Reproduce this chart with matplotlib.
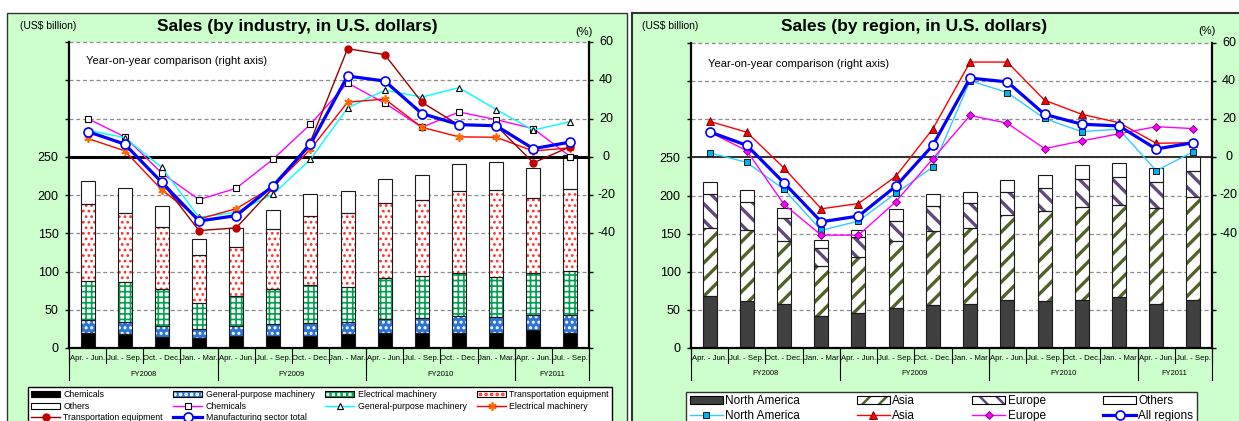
import matplotlib
matplotlib.use('Agg')
import matplotlib.pyplot as plt
import matplotlib.patches as mpatches
from matplotlib.legend_handler import HandlerTuple
from matplotlib import font_manager
import numpy as np

W, H = 1239, 421

plt.rcParams['font.family'] = ['Liberation Sans', 'DejaVu Sans']
plt.rcParams['hatch.linewidth'] = 1.8
_installed = {f.name for f in font_manager.fontManager.ttflist}
NARROW = 'Liberation Sans Narrow' in _installed

quarters = ['Apr. - Jun.', 'Jul. - Sep.', 'Oct. - Dec.', 'Jan. - Mar.'] * 3 + ['Apr. - Jun.', 'Jul. - Sep.']
quarters_r = ['Apr. - Jun.', 'Jul. - Sep.', 'Oct. - Dec.', 'Jan. - Mar'] * 3 + ['Apr. - Jun.', 'Jul. - Sep.']
fiscal_years = ['FY2008', 'FY2009', 'FY2010', 'FY2011']
fy_quarters = [4, 4, 4, 2]

# sales by industry, US$ billion
chemicals = [19.6, 18, 14, 13, 16, 16, 16, 18, 20, 20, 20, 20, 23, 20]
general_machinery = [17.4, 16, 15, 12, 13, 15, 16.6, 15.5, 18, 19.6, 22, 21, 20.5, 23.5]
electrical_machinery = [51, 52.5, 47.5, 34, 39, 46, 50, 46.5, 53, 54.4, 56, 51.6, 54.5, 57.5]
transport_equipment = [100, 90.5, 81.5, 62, 64, 79, 90, 97, 98.6, 100, 107, 114, 97.6, 107]
others_ind = [30, 32, 28, 22, 25, 25, 28.4, 28, 31.4, 32.5, 35, 36, 40, 44]

# year-on-year change by industry, %
chemicals_yoy = [20.0, 10.4, -8.6, -22.4, -16.5, -1.2, 17.0, 38.6, 28.0, 15.4, 23.4, 19.4, 14.7, 0.0]
general_yoy = [13.9, 10.0, -5.6, -31.7, -29.0, -19.5, -1.4, 25.5, 34.8, 31.2, 36.1, 24.7, 13.9, 18.4]
electrical_yoy = [9.6, 3.1, -17.3, -32.5, -27.2, -15.5, 3.9, 28.5, 30.2, 15.4, 10.4, 10.2, 3.0, 4.7]
transport_yoy = [13.0, 6.6, -13.4, -38.6, -37.2, -16.3, 7.9, 56.5, 53.4, 28.5, 16.5, 16.4, -3.2, 5.3]
manufacturing_yoy = [13.2, 6.6, -13.4, -33.6, -30.8, -15.1, 6.5, 42.2, 39.6, 22.6, 16.8, 16.2, 4.2, 7.7]

# sales by region, US$ billion
north_america = [68, 62, 58, 42, 45.5, 52, 56, 58, 63.5, 62, 63.5, 66.5, 58, 63.5]
asia = [90, 93.4, 82, 65, 74, 88, 98, 100, 110.5, 118, 122, 121.5, 125, 135]
europe = [44, 36.4, 31, 23.7, 25.5, 27, 31.6, 32.4, 30, 30, 36.4, 35.7, 34.6, 34.2]
others_reg = [16, 16, 13, 10.5, 10, 14.7, 16.4, 14.6, 16.6, 16.8, 17.5, 18.3, 18, 18.7]

# year-on-year change by region, %
north_america_yoy = [2.4, -2.6, -16.8, -38.3, -33.4, -18.9, -5.0, 40.2, 34.0, 20.4, 13.5, 14.8, -7.0, 3.0]
asia_yoy = [18.9, 13.2, -5.6, -27.0, -24.2, -10.0, 15.0, 50.0, 50.0, 30.0, 22.6, 18.2, 7.4, 7.7]
europe_yoy = [13.3, 3.5, -24.7, -40.8, -40.8, -23.3, -0.7, 22.0, 17.9, 4.6, 8.6, 12.4, 16.1, 15.1]
all_regions_yoy = [13.4, 6.3, -13.4, -33.8, -30.8, -15.2, 6.4, 41.6, 39.6, 22.6, 17.4, 16.5, 4.4, 7.7]

x = np.arange(len(quarters))
BAR_W = 0.375


def px(v):
    return v / W


def py(v):
    return 1 - v / H


def bar_style(face, ink='black', hatch=None, hlw=1.8):
    return dict(face=face, ink=ink, hatch=hatch, hlw=hlw)


def hatch_width(patch, lw):
    if hasattr(patch, 'set_hatch_linewidth'):
        patch.set_hatch_linewidth(lw)


def draw_panel(ax, layers, layer_styles, yoy, yoy_styles, labels, zero_color, zero_lw):
    ax.set_facecolor('white')
    ax.set_xlim(-0.5, len(x) - 0.5)
    ax.set_ylim(0, 400)
    for v in range(50, 401, 50):
        ax.axhline(v, color='#8c8c8c', lw=0.9, ls=(0, (3.2, 2.2)), zorder=1, clip_on=False)

    bottom = np.zeros(len(x))
    bar_handles = []
    for vals, st in zip(layers, layer_styles):
        vals = np.asarray(vals, dtype=float)
        bars = ax.bar(x, vals, BAR_W, bottom=bottom, color=st['face'], edgecolor=st['ink'],
                      hatch=st['hatch'], linewidth=0, zorder=2)
        for p in bars:
            hatch_width(p, st['hlw'])
        fill = mpatches.Patch(facecolor=st['face'], edgecolor=st['ink'], hatch=st['hatch'], lw=0)
        hatch_width(fill, st['hlw'])
        ax.bar(x, vals, BAR_W, bottom=bottom, fill=False, edgecolor='#1a1a1a', linewidth=0.8, zorder=2.1)
        bar_handles.append((fill, mpatches.Patch(fill=False, edgecolor='black', lw=0.8)))
        bottom += vals
    ax.axhline(250, color=zero_color, lw=zero_lw, zorder=3)

    ax.set_yticks(np.arange(0, 401, 50))
    ax.set_yticklabels([str(v) if v <= 250 else '' for v in range(0, 401, 50)])
    ax.tick_params(axis='y', direction='out', length=3, width=1, labelsize=9, pad=4.5)
    ax.set_xticks([])
    for side in ('top', 'right'):
        ax.spines[side].set_visible(False)
    for side in ('left', 'bottom'):
        ax.spines[side].set_linewidth(1.6)

    ax2 = ax.twinx()
    ax2.set_ylim(-100, 60)
    ax2.set_xlim(-0.5, len(x) - 0.5)
    ax2.set_yticks(np.arange(-100, 61, 20))
    ax2.set_yticklabels([])
    ax2.tick_params(axis='y', direction='out', length=3, width=1)
    for side in ('top', 'left', 'bottom'):
        ax2.spines[side].set_visible(False)
    ax2.spines['right'].set_linewidth(1.6)
    for v in range(-40, 61, 20):
        ax2.annotate(str(v), xy=(1, v), xycoords=('axes fraction', 'data'), xytext=(17, 0),
                     textcoords='offset pixels', ha='center', va='center', fontsize=9)

    line_handles = []
    for vals, st in zip(yoy, yoy_styles):
        ln, = ax2.plot(x, vals, **st)
        line_handles.append(ln)

    # quarter / fiscal-year labels under the bars
    tr = ax.get_xaxis_transform()
    q_font = dict(family='Liberation Sans Narrow', fontsize=7) if NARROW else dict(fontsize=5.6)
    fy_font = dict(family='Liberation Sans Narrow', fontsize=6.5) if NARROW else dict(fontsize=5.4)
    for i, lab in enumerate(labels):
        ax.text(i, -0.033, lab, transform=tr, ha='center', va='center', **q_font)
    for b in np.arange(-0.5, len(x), 1.0):
        ax.plot([b, b], [0, -0.049], transform=tr, color='black', lw=0.8, clip_on=False)
    start = -0.5
    for fy, n in zip(fiscal_years, fy_quarters):
        ax.plot([start, start], [0, -0.105], transform=tr, color='black', lw=0.8, clip_on=False)
        ax.text(start + n / 2, -0.085, fy, transform=tr, ha='center', va='center', **fy_font)
        start += n
    ax.plot([start, start], [0, -0.105], transform=tr, color='black', lw=0.8, clip_on=False)
    return bar_handles, line_handles


fig = plt.figure(figsize=(W / 100, H / 100), dpi=100)

fig.patches.append(mpatches.Rectangle((px(7), -0.2), px(627) - px(7), py(12.5) + 0.2,
                                      transform=fig.transFigure, facecolor='#ccffcc',
                                      edgecolor='#333333', lw=1, zorder=-1))
fig.patches.append(mpatches.Rectangle((px(631.5), -0.2), 0.5, py(12.5) + 0.2,
                                      transform=fig.transFigure, facecolor='#ccffcc',
                                      edgecolor='#333333', lw=1.5, zorder=-1))

ax_l = fig.add_axes([px(69), py(348), px(589) - px(69), py(42) - py(348)])
ax_r = fig.add_axes([px(691), py(348), px(1212) - px(691), py(43) - py(348)])

# left: by industry
ind_styles = [
    bar_style('black'),
    bar_style('#2e74d6', 'white', '...', 1.4),
    bar_style('white', '#00a050', '+++', 1.2),
    bar_style('white', '#ff3030', '...', 1.2),
    bar_style('white'),
]
ind_line_styles = [
    dict(color='#ff00ff', lw=1, marker='s', ms=5, mfc='white', mec='black', mew=0.8),
    dict(color='#00ffff', lw=1, marker='^', ms=5, mfc='white', mec='black', mew=0.8),
    dict(color='#ff0000', lw=1, marker=(6, 2, 0), ms=6, mec='#ff6600', mew=1.2),
    dict(color='#990000', lw=1, marker='o', ms=5, mfc='#c00000', mec='#c00000'),
    dict(color='#0000ff', lw=2.3, marker='o', ms=6.5, mfc='white', mec='#0000ff', mew=1.2),
]
bars_l, lines_l = draw_panel(
    ax_l,
    [chemicals, general_machinery, electrical_machinery, transport_equipment, others_ind],
    ind_styles,
    [chemicals_yoy, general_yoy, electrical_yoy, transport_yoy, manufacturing_yoy],
    ind_line_styles, quarters, 'black', 2.2)

# right: by region
reg_styles = [
    bar_style('#404040'),
    bar_style('white', '#4f6228', '//', 2.4),
    bar_style('white', '#5f497a', '\\\\', 2.4),
    bar_style('white'),
]
reg_line_styles = [
    dict(color='#33ccff', lw=1, marker='s', ms=5, mfc='#00b0f0', mec='black', mew=0.6),
    dict(color='#ff0000', lw=1, marker='^', ms=5.5, mfc='#ff0000', mec='#600000', mew=0.6),
    dict(color='#ff00ff', lw=1, marker='D', ms=4, mfc='#ff00ff', mec='#700070', mew=0.6),
    dict(color='#0000ff', lw=2.3, marker='o', ms=6.5, mfc='white', mec='#0000ff', mew=1.2),
]
bars_r, lines_r = draw_panel(
    ax_r,
    [north_america, asia, europe, others_reg],
    reg_styles,
    [north_america_yoy, asia_yoy, europe_yoy, all_regions_yoy],
    reg_line_styles, quarters_r, '#303030', 1.4)

# legends (column-major order fills the rows left to right)
leg_l_handles = [bars_l[0], bars_l[4], lines_l[3], bars_l[1], lines_l[0], lines_l[4],
                 bars_l[2], lines_l[1], bars_l[3], lines_l[2]]
leg_l_labels = ['Chemicals', 'Others', 'Transportation equipment',
                'General-purpose machinery', 'Chemicals', 'Manufacturing sector total',
                'Electrical machinery', 'General-purpose machinery',
                'Transportation equipment', 'Electrical machinery']
leg = fig.legend(leg_l_handles, leg_l_labels, loc='upper left',
                 bbox_to_anchor=(px(28), py(387), px(612) - px(28), 0.0001),
                 mode='expand', ncol=4, fontsize=6.3, numpoints=1, handlelength=3.3,
                 handleheight=0.7, handletextpad=0.4, labelspacing=0.3, borderpad=0.35,
                 borderaxespad=0, fancybox=False, framealpha=1, edgecolor='black',
                 handler_map={tuple: HandlerTuple(ndivide=1, pad=0)})
leg.get_frame().set_linewidth(1)

leg_r_handles = [bars_r[0], lines_r[0], bars_r[1], lines_r[1], bars_r[2], lines_r[2],
                 bars_r[3], lines_r[3]]
leg_r_labels = ['North America', 'North America', 'Asia', 'Asia', 'Europe', 'Europe',
                'Others', 'All regions']
leg = fig.legend(leg_r_handles, leg_r_labels, loc='upper left',
                 bbox_to_anchor=(px(686), py(392), px(1197) - px(686), 0.0001),
                 mode='expand', ncol=4, fontsize=8.5, numpoints=1, handlelength=2.8,
                 handleheight=0.7, handletextpad=0.2, labelspacing=0.2, borderpad=0.3,
                 borderaxespad=0, fancybox=False, framealpha=1, edgecolor='#333333',
                 handler_map={tuple: HandlerTuple(ndivide=1, pad=0)})
leg.get_frame().set_linewidth(1)

# panel captions
for x0, title, tx, pct_x, pct_y, note_x, note_y in [
        (20, 'Sales (by industry, in U.S. dollars)', 297, 593, 32, 86, 61),
        (642, 'Sales (by region, in U.S. dollars)', 914, 1216, 31, 708, 64)]:
    fig.text(px(x0), py(26), '(US$ billion)', fontsize=7.5, ha='left', va='center')
    fig.text(px(tx), py(26), title, fontsize=12.5, weight='bold', ha='center', va='center')
    fig.text(px(pct_x), py(pct_y), '(%)', fontsize=8, ha='right', va='center')
    fig.text(px(note_x), py(note_y), 'Year-on-year comparison (right axis)', fontsize=8,
             ha='left', va='center')

fig.savefig('out.png', dpi=100)
